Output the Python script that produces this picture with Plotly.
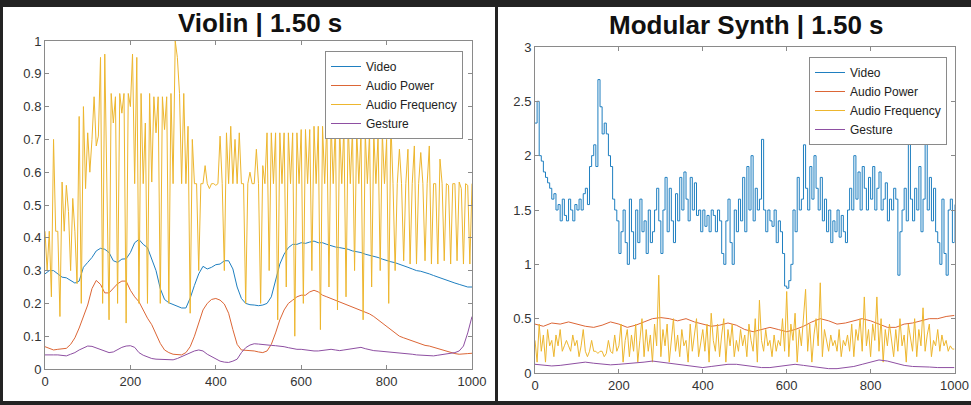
import plotly.graph_objects as go

FONT = "Liberation Sans, Arial, Helvetica, sans-serif"
SERIES = ["Video", "Audio Power", "Audio Frequency", "Gesture"]
COLORS = ["#1f7fc0", "#dc6636", "#edb62e", "#8e4fa2"]

x_step5 = list(range(0, 1001, 5))
x_step10 = list(range(0, 1001, 10))
x_step20 = list(range(0, 1001, 20))

violin_yticks = [0, 0.1, 0.2, 0.3, 0.4, 0.5, 0.6, 0.7, 0.8, 0.9, 1]
violin_yticklabels = ["0", "0.1", "0.2", "0.3", "0.4", "0.5", "0.6", "0.7", "0.8", "0.9", "1"]
synth_yticks = [0, 0.5, 1, 1.5, 2, 2.5, 3]
synth_yticklabels = ["0", "0.5", "1", "1.5", "2", "2.5", "3"]
xticks = [0, 200, 400, 600, 800, 1000]

violin_video = [
    0.29, 0.30, 0.30, 0.29, 0.28, 0.278, 0.27, 0.262, 0.268, 0.31,
    0.325, 0.34, 0.36, 0.368, 0.365, 0.355, 0.33, 0.325, 0.335, 0.336,
    0.355, 0.385, 0.395, 0.38, 0.37, 0.338, 0.30, 0.245, 0.212, 0.202,
    0.196, 0.19, 0.186, 0.186, 0.216, 0.255, 0.29, 0.313, 0.305, 0.31,
    0.318, 0.32, 0.33, 0.33, 0.305, 0.25, 0.215, 0.2, 0.196, 0.195,
    0.193, 0.195, 0.2, 0.22, 0.27, 0.32, 0.35, 0.37, 0.38, 0.38,
    0.385, 0.383, 0.387, 0.39, 0.385, 0.385, 0.38, 0.375, 0.372, 0.37,
    0.368, 0.365, 0.36, 0.358, 0.355, 0.35, 0.347, 0.343, 0.34, 0.335,
    0.33, 0.327, 0.324, 0.32, 0.316, 0.31, 0.305, 0.30, 0.298, 0.295,
    0.29, 0.285, 0.28, 0.275, 0.27, 0.265, 0.262, 0.258, 0.255, 0.25,
    0.25,
]
violin_power = [
    0.068, 0.062, 0.058, 0.06, 0.062, 0.063, 0.075, 0.095, 0.125, 0.16,
    0.195, 0.245, 0.27, 0.258, 0.232, 0.232, 0.245, 0.26, 0.268, 0.268,
    0.24, 0.22, 0.205, 0.18, 0.155, 0.135, 0.105, 0.078, 0.058, 0.05,
    0.045, 0.043, 0.043, 0.05, 0.068, 0.1, 0.14, 0.18, 0.2, 0.212,
    0.215, 0.21, 0.198, 0.17, 0.12, 0.075, 0.058, 0.057, 0.058, 0.055,
    0.052, 0.05, 0.055, 0.075, 0.11, 0.15, 0.18, 0.2, 0.21, 0.22,
    0.225, 0.225, 0.235, 0.24, 0.235, 0.225, 0.22, 0.215, 0.21, 0.205,
    0.2, 0.195, 0.19, 0.185, 0.18, 0.175, 0.168, 0.16, 0.15, 0.14,
    0.128, 0.118, 0.108, 0.1, 0.095, 0.09, 0.085, 0.08, 0.075, 0.072,
    0.07, 0.066, 0.062, 0.058, 0.055, 0.05, 0.047, 0.045, 0.045, 0.047,
    0.048,
]
violin_gesture = [
    0.043, 0.044, 0.043, 0.043, 0.041, 0.04, 0.045, 0.05, 0.058, 0.065,
    0.07, 0.069, 0.064, 0.06, 0.056, 0.05, 0.052, 0.06, 0.066, 0.07,
    0.071, 0.066, 0.05, 0.042, 0.036, 0.032, 0.03, 0.029, 0.028, 0.028,
    0.028, 0.032, 0.038, 0.045, 0.05, 0.055, 0.058, 0.055, 0.045, 0.038,
    0.03, 0.024, 0.021, 0.02, 0.024, 0.03, 0.05, 0.065, 0.073, 0.077,
    0.076, 0.074, 0.073, 0.072, 0.071, 0.07, 0.068, 0.065, 0.062, 0.06,
    0.06, 0.058, 0.056, 0.055, 0.055, 0.056, 0.058, 0.06, 0.058, 0.056,
    0.058, 0.06, 0.06, 0.063, 0.066, 0.062, 0.058, 0.056, 0.055, 0.054,
    0.052, 0.05, 0.049, 0.048, 0.047, 0.046, 0.045, 0.043, 0.042, 0.041,
    0.04, 0.04, 0.042, 0.044, 0.046, 0.046, 0.05, 0.055, 0.07, 0.11,
    0.16,
]
violin_freq = [
    0.42, 0.30, 0.42, 0.22, 0.70, 0.42, 0.42, 0.16, 0.57, 0.42,
    0.56, 0.48, 0.30, 0.52, 0.42, 0.26, 0.77, 0.20, 0.80, 0.55,
    0.72, 0.60, 0.70, 0.83, 0.68, 0.71, 0.95, 0.20, 0.96, 0.57,
    0.15, 0.84, 0.75, 0.83, 0.20, 0.84, 0.78, 0.84, 0.14, 0.84,
    0.80, 0.96, 0.565, 0.95, 0.20, 0.84, 0.565, 0.75, 0.20, 0.84,
    0.57, 0.83, 0.72, 0.83, 0.20, 0.83, 0.73, 0.83, 0.20, 0.84,
    0.565, 1.00, 0.95, 0.84, 0.565, 0.84, 0.565, 0.74, 0.17, 0.70,
    0.565, 0.565, 0.30, 0.565, 0.565, 0.62, 0.565, 0.55, 0.565, 0.565,
    0.56, 0.565, 0.71, 0.565, 0.30, 0.72, 0.565, 0.74, 0.565, 0.70,
    0.565, 0.72, 0.565, 0.565, 0.20, 0.565, 0.60, 0.565, 0.565, 0.67,
    0.565, 0.20, 0.62, 0.565, 0.72, 0.30, 0.72, 0.565, 0.72, 0.15,
    0.72, 0.565, 0.72, 0.25, 0.72, 0.565, 0.72, 0.10, 0.72, 0.565,
    0.73, 0.20, 0.73, 0.565, 0.73, 0.30, 0.74, 0.565, 0.74, 0.12,
    0.74, 0.565, 0.75, 0.25, 0.75, 0.565, 0.75, 0.18, 0.74, 0.565,
    0.74, 0.22, 0.75, 0.565, 0.73, 0.30, 0.73, 0.565, 0.72, 0.15,
    0.72, 0.565, 0.72, 0.25, 0.72, 0.565, 0.71, 0.30, 0.72, 0.565,
    0.70, 0.20, 0.75, 0.565, 0.30, 0.565, 0.67, 0.565, 0.33, 0.565,
    0.67, 0.32, 0.565, 0.68, 0.32, 0.565, 0.66, 0.565, 0.33, 0.565,
    0.68, 0.32, 0.565, 0.565, 0.32, 0.64, 0.565, 0.33, 0.565, 0.56,
    0.32, 0.565, 0.565, 0.33, 0.57, 0.55, 0.32, 0.565, 0.56, 0.32,
    0.565,
]

synth_video = [
    2.3, 2.5, 2.0, 1.95, 1.85, 1.8, 1.75, 1.7, 1.6, 1.65,
    1.5, 1.55, 1.4, 1.6, 1.45, 1.4, 1.6, 1.5, 1.4, 1.55,
    1.5, 1.6, 1.5, 1.65, 1.7, 1.55, 1.9, 2.0, 2.1, 1.9,
    2.7, 2.45, 2.2, 2.3, 2.2, 2.0, 1.9, 1.6, 1.5, 1.4,
    1.1, 1.3, 1.5, 1.2, 1.0, 1.6, 1.3, 1.05, 1.5, 1.2,
    1.6, 1.3, 1.4, 1.1, 1.5, 1.2, 1.3, 1.5, 1.7, 1.4,
    1.1, 1.5, 1.8, 1.3, 1.7, 1.4, 1.2, 1.65, 1.4, 1.8,
    1.5, 1.85, 1.6, 1.4, 1.8, 1.5, 1.75, 1.45, 1.5, 1.3,
    1.5, 1.35, 1.45, 1.3, 1.5, 1.45, 1.3, 1.5, 1.4, 1.1,
    1.0, 1.4, 1.6, 1.2, 1.0, 1.5, 1.3, 1.6, 1.4, 1.8,
    1.3, 1.9, 1.5, 2.0, 1.4, 1.7, 1.5, 1.6, 2.15, 1.5,
    1.3, 1.5, 1.4, 1.35, 1.5, 1.2, 1.4, 1.3, 1.1, 0.8,
    0.78, 0.85, 1.0, 1.5, 1.3, 1.8, 1.5, 1.6, 2.1, 1.7,
    1.5, 1.9, 1.6, 2.0, 1.7, 1.5, 1.8, 1.4, 1.6, 1.3,
    1.5, 1.2, 1.4, 1.3, 1.5, 1.25, 1.45, 1.3, 1.2, 1.5,
    1.7, 1.5, 2.0, 1.6, 1.85, 1.5, 1.9, 1.7, 1.5, 1.8,
    1.6, 1.9, 1.5, 1.7, 1.85, 1.5, 1.6, 1.75, 1.4, 1.6,
    1.5, 1.7, 1.6, 0.9, 1.3, 1.5, 1.7, 1.4, 2.3, 1.6,
    1.4, 1.7, 1.5, 1.9, 1.3, 1.6, 2.25, 1.5, 1.8, 1.4,
    1.7, 1.3, 1.2, 1.0, 1.6, 1.1, 0.9, 1.5, 1.6, 1.2,
    1.55,
]
synth_power = [
    0.45, 0.43, 0.46, 0.45, 0.47, 0.45, 0.43, 0.42, 0.44, 0.47,
    0.45, 0.42, 0.44, 0.47, 0.5, 0.51, 0.5, 0.48, 0.5, 0.47,
    0.45, 0.43, 0.44, 0.46, 0.44, 0.4, 0.38, 0.4, 0.42, 0.4,
    0.38, 0.4, 0.43, 0.47, 0.5, 0.48, 0.45, 0.46, 0.48, 0.5,
    0.48, 0.45, 0.42, 0.42, 0.45, 0.46, 0.48, 0.5, 0.5, 0.52,
    0.53,
]
synth_freq = [
    0.3, 0.1, 0.45, 0.2, 0.35, 0.1, 0.4, 0.25, 0.3, 0.15,
    0.35, 0.25, 0.4, 0.2, 0.25, 0.3, 0.25, 0.2, 0.35, 0.25,
    0.3, 0.15, 0.25, 0.4, 0.2, 0.15, 0.2, 0.3, 0.2, 0.2,
    0.18, 0.2, 0.2, 0.15, 0.18, 0.3, 0.2, 0.18, 0.35, 0.2,
    0.25, 0.45, 0.1, 0.3, 0.4, 0.15, 0.35, 0.2, 0.45, 0.1,
    0.3, 0.5, 0.15, 0.4, 0.2, 0.35, 0.1, 0.45, 0.25, 0.9,
    0.15, 0.4, 0.25, 0.45, 0.1, 0.3, 0.5, 0.2, 0.35, 0.15,
    0.4, 0.25, 0.3, 0.1, 0.45, 0.2, 0.35, 0.5, 0.15, 0.3,
    0.4, 0.2, 0.45, 0.1, 0.55, 0.3, 0.2, 0.45, 0.15, 0.35,
    0.5, 0.1, 0.4, 0.25, 0.45, 0.15, 0.3, 0.2, 0.4, 0.25,
    0.35, 0.15, 0.45, 0.3, 0.2, 0.5, 0.1, 0.67, 0.3, 0.2,
    0.4, 0.25, 0.3, 0.15, 0.35, 0.2, 0.3, 0.25, 0.5, 0.2,
    0.75, 0.15, 0.45, 0.3, 0.55, 0.1, 0.4, 0.25, 0.5, 0.77,
    0.2, 0.45, 0.1, 0.35, 0.5, 0.25, 0.83, 0.15, 0.4, 0.3,
    0.2, 0.35, 0.25, 0.3, 0.2, 0.4, 0.15, 0.3, 0.25, 0.35,
    0.2, 0.45, 0.15, 0.4, 0.3, 0.5, 0.2, 0.7, 0.25, 0.4,
    0.15, 0.45, 0.3, 0.7, 0.2, 0.5, 0.1, 0.4, 0.25, 0.45,
    0.3, 0.15, 0.4, 0.2, 0.5, 0.25, 0.35, 0.1, 0.45, 0.3,
    0.2, 0.5, 0.15, 0.4, 0.25, 0.6, 0.2, 0.35, 0.45, 0.15,
    0.3, 0.25, 0.4, 0.2, 0.35, 0.25, 0.3, 0.2, 0.25, 0.22,
    0.22,
]
synth_gesture = [
    0.08, 0.07, 0.065, 0.07, 0.08, 0.09, 0.1, 0.09, 0.08, 0.075,
    0.08, 0.085, 0.09, 0.1, 0.11, 0.1, 0.09, 0.08, 0.07, 0.06,
    0.05, 0.06, 0.07, 0.08, 0.08, 0.07, 0.06, 0.05, 0.05, 0.06,
    0.07, 0.08, 0.07, 0.06, 0.05, 0.04, 0.04, 0.05, 0.06, 0.08,
    0.1, 0.12, 0.11, 0.09, 0.07, 0.06, 0.06, 0.055, 0.05, 0.05,
    0.05,
]

W, H = 971, 405
fig = go.Figure()

violin_series = [
    (x_step10, violin_video, "linear"),
    (x_step10, violin_power, "linear"),
    (x_step5, violin_freq, "linear"),
    (x_step10, violin_gesture, "linear"),
]
synth_series = [
    (x_step5, synth_video, "hv"),
    (x_step20, synth_power, "linear"),
    (x_step5, synth_freq, "linear"),
    (x_step20, synth_gesture, "linear"),
]

for (xs, ys, shape), name, color in zip(violin_series, SERIES, COLORS):
    fig.add_trace(go.Scatter(x=xs, y=ys, mode="lines", name=name, line=dict(color=color, width=1, shape=shape),
                             xaxis="x", yaxis="y", legend="legend"))
for (xs, ys, shape), name, color in zip(synth_series, SERIES, COLORS):
    fig.add_trace(go.Scatter(x=xs, y=ys, mode="lines", name=name, line=dict(color=color, width=1, shape=shape),
                             xaxis="x2", yaxis="y2", legend="legend2"))

AX = "#8a8a8a"
common = dict(showline=True, linecolor=AX, linewidth=1, mirror="ticks", ticks="inside", ticklen=4,
              tickcolor=AX, showgrid=False, zeroline=False, fixedrange=True, automargin=False,
              ticklabeloverflow="allow",
              tickfont=dict(family=FONT, size=13, color="#333333"))

legend_common = dict(bgcolor="white", bordercolor=AX, borderwidth=1, xanchor="right", yanchor="top",
                     font=dict(family=FONT, size=12, color="#222222"), tracegroupgap=0)

fig.update_layout(
    template="none",
    width=W, height=H, margin=dict(l=0, r=0, t=0, b=0, pad=0), autosize=False,
    paper_bgcolor="#232323", plot_bgcolor="white", showlegend=True,
    xaxis=dict(common, domain=[45 / W, 472 / W], range=[0, 1000], tickvals=xticks, anchor="y"),
    yaxis=dict(common, domain=[1 - 369 / H, 1 - 41 / H], range=[0, 1], tickvals=violin_yticks,
               ticktext=violin_yticklabels, anchor="x"),
    xaxis2=dict(common, domain=[535 / W, 954.5 / W], range=[0, 1000], tickvals=xticks, anchor="y2"),
    yaxis2=dict(common, domain=[1 - 373 / H, 1 - 47 / H], range=[0, 3], tickvals=synth_yticks,
                ticktext=synth_yticklabels, anchor="x2"),
    legend=dict(legend_common, x=463 / W, y=1 - 51 / H),
    legend2=dict(legend_common, x=947 / W, y=1 - 57 / H),
    shapes=[
        dict(type="rect", xref="paper", yref="paper", x0=3 / W, x1=495 / W, y0=1 - 401 / H, y1=1 - 7 / H,
             fillcolor="white", line=dict(width=0), layer="below"),
        dict(type="rect", xref="paper", yref="paper", x0=498 / W, x1=1, y0=1 - 401 / H, y1=1 - 7 / H,
             fillcolor="white", line=dict(width=0), layer="below"),
    ],
    annotations=[
        dict(text="<b>Violin | 1.50 s</b>", xref="paper", yref="paper", x=259.5 / W, y=1 - 23 / H,
             xanchor="center", yanchor="middle", showarrow=False,
             font=dict(family=FONT, size=26, color="#111111")),
        dict(text="<b>Modular Synth | 1.50 s</b>", xref="paper", yref="paper", x=746.5 / W, y=1 - 25 / H,
             xanchor="center", yanchor="middle", showarrow=False,
             font=dict(family=FONT, size=26, color="#111111")),
    ],
)

fig.write_html(
    "out.html",
    config={"displayModeBar": False},
    post_script="document.body.style.margin='0px';document.body.style.padding='0px';"
                "document.body.style.overflow='hidden';document.body.style.background='#232323';",
)
